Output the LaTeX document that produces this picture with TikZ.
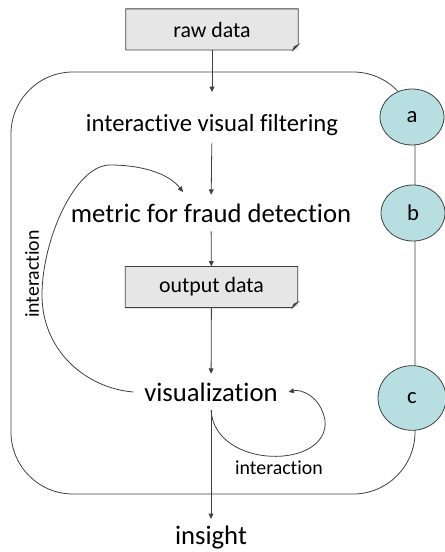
\documentclass[tikz,border=0pt]{standalone}
\usepackage{fontspec}
\setmainfont[Ligatures=NoCommon]{Carlito}
\usetikzlibrary{arrows.meta,positioning,shapes.geometric}
\definecolor{boxgray}{RGB}{231,230,230}
\definecolor{stagecyan}{RGB}{183,222,225}
\tikzset{
  line/.style={draw=black!75, line width=0.6pt},
  flow/.style={line, -{Triangle[length=4pt,width=3.6pt]}},
  step text/.style={font=\fontsize{20}{22}\selectfont, inner sep=0pt, minimum height=27pt},
  small text/.style={font=\fontsize{14.9}{17}\selectfont, inner sep=0pt},
  stage/.style={ellipse, line, fill=stagecyan, inner sep=0pt,
    minimum width=48pt, minimum height=42pt, font=\fontsize{17}{20}\selectfont},
  docbox/.pic={
    \node[fill=boxgray, minimum width=129pt, minimum height=30.5pt, inner sep=0pt,
      font=\fontsize{16.4}{19}\selectfont] (-box) at (0,0) {#1};
    \draw[line] (-box.south west) -- (-box.north west) -- (-box.north east)
      -- ([yshift=4pt]-box.south east) -- ([xshift=-4pt]-box.south east) -- cycle;
    \draw[line, fill=black!35] ([yshift=4pt]-box.south east)
      -- ([xshift=-4pt]-box.south east) -- ([xshift=-3pt,yshift=2.5pt]-box.south east) -- cycle;
  }
}
\begin{document}
\begin{tikzpicture}[x=0.75pt, y=-0.75pt]
  \useasboundingbox (0,0) rectangle (445,552);

  % frame of the interactive loop
  \draw[line, rounded corners=46.5pt] (11,72) rectangle (415,494);

  \pic (raw) at (212,29.5) {docbox=raw data};
  \node[step text, font=\fontsize{18.5}{21}\selectfont] (filt) at (212,125) {interactive visual filtering};
  \node[step text] (metric) at (211,213) {metric for fraud detection};
  \pic (out) at (211.5,287) {docbox=output data};
  \node[step text, inner xsep=8pt] (vis) at (211,392) {visualization};
  \node[step text, below=81.5pt of vis] (insight) {insight};

  \node[stage] (a) at (412,117) {a};
  \node[stage] (b) at (413,213) {b};
  \node[stage, minimum width=51pt, minimum height=48.5pt] (c) at (412,398) {c};

  \node[small text, rotate=90] (intl) at (32,274) {interaction};
  \node[small text] (intb) at (279,468) {interaction};

  \coordinate (loopin) at (183,192);

  \draw[flow, shorten >=11pt] (raw-box) -- (filt);
  \draw[flow] (filt) -- (metric);
  \draw[flow] (metric) -- (out-box);
  \draw[flow] (out-box) -- (vis);
  \draw[flow] (vis) -- (insight);

  \draw[flow] (vis.west) .. controls (85,388) and (42,350) .. (42,295)
    .. controls (42,240) and (75,165) .. (110,165)
    .. controls (145,165) and (170,175) .. (loopin);
  \draw[flow] (vis.south) .. controls (215,470) and (330,470) .. (325,420)
    .. controls (320,395) and (300,389) .. (vis.east);
\end{tikzpicture}
\end{document}
